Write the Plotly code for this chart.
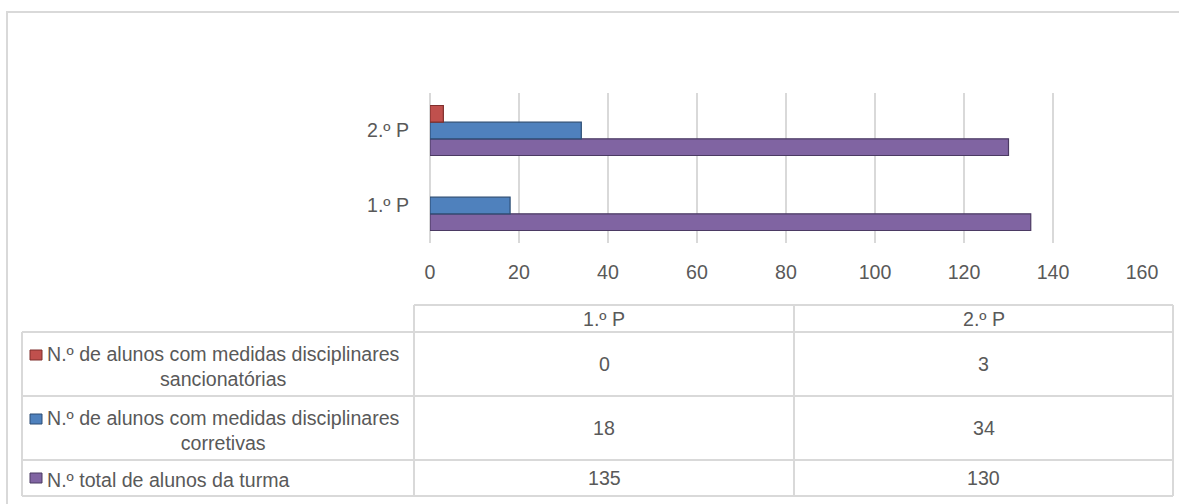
import plotly.graph_objects as go

# ---- data ----
categories = ["1.º P", "2.º P"]
series_names = [
    "N.º de alunos com medidas disciplinares<br>sancionatórias",
    "N.º de alunos com medidas disciplinares<br>corretivas",
    "N.º total de alunos da turma",
]
sancionatorias = [0, 3]
corretivas = [18, 34]
total = [135, 130]
series_values = [sancionatorias, corretivas, total]
series_colors = ["#C0504D", "#4F81BD", "#8064A2"]
series_lines = ["#7F2F2D", "#2C4D75", "#4B3A63"]
x_ticks = [0, 20, 40, 60, 80, 100, 120, 140, 160]

W, H = 1179, 504
PL, PR, PT, PB = 430, 1142, 93, 243  # plot area in pixels

def px(x):
    return (x - PL) / (PR - PL)

def py(y):
    return (PB - y) / (PB - PT)

FONT = "Liberation Sans, Arial, sans-serif"
FS = 19.6
TXT = "#595959"
GRID = "#D9D9D9"

fig = go.Figure()
# bottom-to-top order within group: total, corretivas, sancionatorias
for i in [2, 1, 0]:
    fig.add_trace(go.Bar(
        y=categories, x=series_values[i], orientation="h",
        name=series_names[i],
        marker=dict(color=series_colors[i],
                    line=dict(color=series_lines[i],
                              width=[0 if v == 0 else 1.2 for v in series_values[i]])),
        showlegend=False, hoverinfo="x",
    ))

fig.update_layout(
    width=W, height=H, autosize=False,
    margin=dict(l=PL, r=W - PR, t=PT, b=H - PB, pad=0),
    paper_bgcolor="white", plot_bgcolor="white",
    barmode="group", bargap=1/3, bargroupgap=0,
    font=dict(family=FONT, size=FS, color=TXT),
    xaxis=dict(range=[0, 160], tickvals=x_ticks, showgrid=True, gridcolor=GRID, gridwidth=2,
               zeroline=True, zerolinecolor=GRID, zerolinewidth=2, showline=False,
               ticks="", ticklabelstandoff=15, tickfont=dict(size=FS, color=TXT), fixedrange=True),
    yaxis=dict(categoryorder="array", categoryarray=categories, showgrid=False, zeroline=False,
               showline=False, ticks="", ticklabelstandoff=20, tickfont=dict(size=FS, color=TXT),
               fixedrange=True),
)

shapes = []
# outer frame
shapes.append(dict(type="rect", xref="paper", yref="paper", x0=px(7), x1=px(1190), y0=py(12), y1=py(520),
                   line=dict(color=GRID, width=2), layer="below"))

# data table geometry
col_x = [22, 414, 794, 1173]
row_y = [305, 332, 396, 460, 496]
def line(x0, y0, x1, y1):
    shapes.append(dict(type="line", xref="paper", yref="paper", x0=px(x0), x1=px(x1), y0=py(y0), y1=py(y1),
                       line=dict(color=GRID, width=2)))
# header row
line(col_x[1], row_y[0], col_x[3], row_y[0])
for r in row_y[1:]:
    line(col_x[0], r, col_x[3], r)
line(col_x[0], row_y[1], col_x[0], row_y[4])
for c in col_x[1:]:
    line(c, row_y[0], c, row_y[4])

annotations = []
def text(x, y, s, xanchor="center", align="center"):
    annotations.append(dict(xref="paper", yref="paper", x=px(x), y=py(y), text=s, showarrow=False,
                            xanchor=xanchor, yanchor="middle", align=align,
                            font=dict(family=FONT, size=FS, color=TXT)))

# header
for j, cat in enumerate(categories):
    text((col_x[j + 1] + col_x[j + 2]) / 2, (row_y[0] + row_y[1]) / 2, cat)

# rows
key_line_y = [355, 419, 478]
for i in range(3):
    ymid = (row_y[i + 1] + row_y[i + 2]) / 2
    text(45, ymid + 2, series_names[i], xanchor="left", align="center")
    # legend key
    ky = key_line_y[i]
    shapes.append(dict(type="rect", xref="paper", yref="paper", x0=px(30), x1=px(42), y0=py(ky - 5), y1=py(ky + 5),
                       fillcolor=series_colors[i], line=dict(color=series_lines[i], width=1)))
    for j in range(len(categories)):
        text((col_x[j + 1] + col_x[j + 2]) / 2, ymid, str(series_values[i][j]))

fig.update_layout(shapes=shapes, annotations=annotations)
fig.write_html("out.html", config={"displayModeBar": False},
               post_script="document.body.style.margin='0';document.body.style.overflow='hidden';")
